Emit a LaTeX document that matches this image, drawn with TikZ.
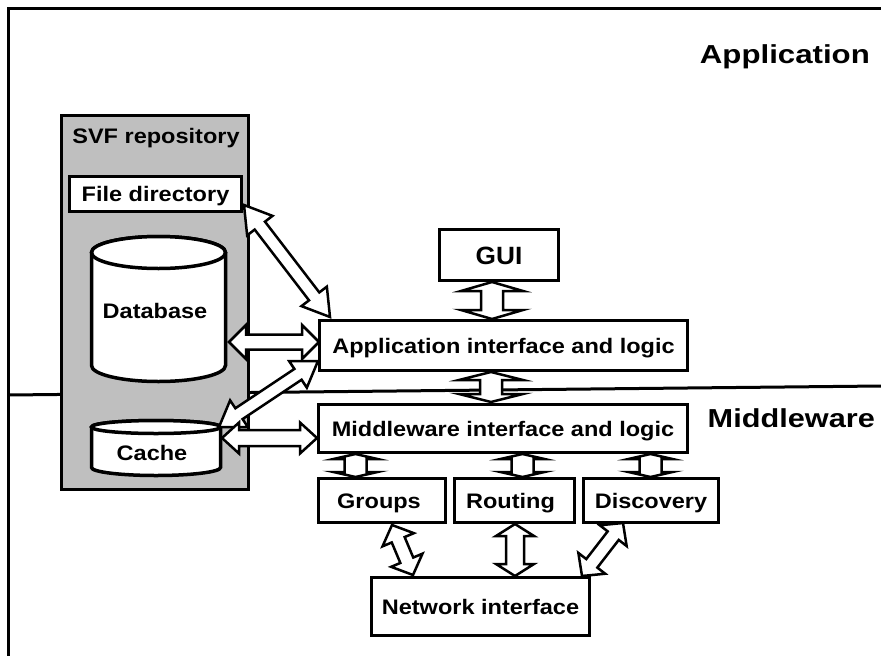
\documentclass[tikz,border=0pt]{standalone}
\usepackage{fontspec}
\setmainfont{Liberation Sans}
\usetikzlibrary{calc}

% wide white double arrow between two named points:
% #1 from, #2 to, #3 shaft half-width, #4 head half-width, #5 head length
\newcommand\fatlink[5]{%
  \pgfpointdiff{\pgfpointanchor{#1}{center}}{\pgfpointanchor{#2}{center}}%
  \pgfgetlastxy{\fdx}{\fdy}%
  \pgfmathsetmacro\fang{atan2(\fdy,\fdx)}%
  \pgfmathsetmacro\flen{veclen(\fdx,\fdy)}%
  \pgfmathsetmacro\fback{\flen-#5}%
  \begin{scope}[shift={(#1)},rotate=\fang]
    \draw[fatarrow] (0,0) -- (#5,#4) -- (#5,#3) -- (\fback,#3) -- (\fback,#4) -- (\flen,0)
      -- (\fback,-#4) -- (\fback,-#3) -- (#5,-#3) -- (#5,-#4) -- cycle;
  \end{scope}}

\newcommand\wtxt[2][1.12]{\scalebox{#1}[1]{#2}}
\newcommand\boxfont{\fontsize{21}{24}\selectfont\bfseries}
\newcommand\titlefont{\fontsize{26}{30}\selectfont\bfseries}

\tikzset{
  box/.style={draw, line width=3.5, fill=white, inner sep=0pt,
    text height=15pt, text depth=0pt, font=\boxfont},
  fatarrow/.style={draw, fill=white, line width=2.5, line join=miter},
  cyl/.style={draw, fill=white, line width=3.5},
  plain/.style={inner sep=0pt, anchor=base},
}

\begin{document}
\begin{tikzpicture}[x=1pt,y=1pt]
\useasboundingbox (0,0) rectangle (881,-656);

% outer frame and layer divider
\draw[line width=3] (8,-670) -- (8,-8.5) -- (890,-8.5);
\draw[line width=3] (8,-395) -- (881,-386);

% layer titles
\node[inner sep=0pt, anchor=base east, font=\titlefont] (apptitle) at (870,-63) {\wtxt[1.2]{Application}};
\node[inner sep=0pt, anchor=base east, font=\titlefont] (midtitle) at (875,-427) {\wtxt[1.18]{Middleware}};

% repository
\node[draw, line width=3.5, fill=black!25, minimum width=187, minimum height=374, inner sep=0pt] (svf) at (155,-302.5) {};
\node[plain, font=\boxfont] (svftitle) at (156,-143) {\wtxt{SVF repository}};
\node[box, minimum width=172, minimum height=35] (fd) at (155.5,-194) {\wtxt{File directory}};

% database cylinder
\filldraw[cyl] (91.5,-252.5) -- (91.5,-365.5)
  arc[start angle=180, end angle=360, x radius=67, y radius=16] -- (225.5,-252.5)
  arc[start angle=0, end angle=180, x radius=67, y radius=16] -- cycle;
\draw[cyl] (158.5,-252.5) ellipse[x radius=67, y radius=16];
\node[plain, font=\boxfont] (db) at (155,-318) {\wtxt{Database}};

% cache cylinder
\filldraw[cyl] (91.5,-427) -- (91.5,-467.5)
  arc[start angle=180, end angle=360, x radius=64.5, y radius=8] -- (220.5,-427)
  arc[start angle=0, end angle=180, x radius=64.5, y radius=6.5] -- cycle;
\draw[cyl] (156,-427) ellipse[x radius=64.5, y radius=6.5];
\node[plain, font=\boxfont] (cache) at (152,-460) {\wtxt{Cache}};

% component boxes
\node[box, minimum width=119, minimum height=51, text height=18pt, font=\fontsize{25}{28}\selectfont\bfseries] (gui) at (499,-255) {\wtxt[1.05]{GUI}};
\node[box, minimum width=368, minimum height=50] (app) at (503.5,-345.5) {\wtxt{Application interface and logic}};
\node[box, minimum width=369, minimum height=48] (mid) at (503,-428.5) {\wtxt{Middleware interface and logic}};
\node[box, minimum width=127, minimum height=44] (groups) at (382,-500.5) {\wtxt{Groups}\hspace*{6pt}};
\node[box, minimum width=120, minimum height=44] (routing) at (514.5,-500.5) {\wtxt{Routing}\hspace*{8pt}};
\node[box, minimum width=135, minimum height=44] (disc) at (651,-500.5) {\wtxt{Discovery}};
\node[box, minimum width=218, minimum height=58] (net) at (480.5,-606.5) {\wtxt{Network interface}};

% connector end points
\coordinate (fdR)   at (244,-205);  \coordinate (appFD) at (330,-317);
\coordinate (dbR)   at (229,-342);  \coordinate (appDB) at (319,-342);
\coordinate (caU)   at (219,-427);  \coordinate (appCA) at (318,-361);
\coordinate (caR)   at (222,-438);  \coordinate (midCA) at (317,-438);
\coordinate (guiB)  at (492,-282);  \coordinate (appT)  at (492,-319);
\coordinate (appB)  at (491,-372);  \coordinate (midT)  at (491,-402);
\coordinate (midG)  at (355.5,-454); \coordinate (grT)  at (355.5,-477);
\coordinate (midR)  at (522.5,-454); \coordinate (roT)  at (522.5,-477);
\coordinate (midD)  at (650.5,-454); \coordinate (diT)  at (650.5,-477);
\coordinate (grB)   at (392,-525);  \coordinate (netG)  at (413,-575);
\coordinate (roB)   at (515,-524);  \coordinate (netR)  at (515,-576);
\coordinate (diB)   at (623,-523);  \coordinate (netD)  at (582,-576);

% connectors
\fatlink{fdR}{appFD}{6.5}{16}{26}
\fatlink{dbR}{appDB}{7.5}{17}{17}
\fatlink{caU}{appCA}{6.5}{16}{24}
\fatlink{caR}{midCA}{8}{15.5}{17}
\fatlink{guiB}{appT}{11}{31}{9}
\fatlink{appB}{midT}{11}{32}{8}
\fatlink{midG}{grT}{11}{22}{5}
\fatlink{midR}{roT}{11}{22}{5}
\fatlink{midD}{diT}{11}{22}{5}
\fatlink{grB}{netG}{7}{17}{16}
\fatlink{roB}{netR}{9}{19}{12}
\fatlink{diB}{netD}{7}{17}{16}
\end{tikzpicture}
\end{document}
